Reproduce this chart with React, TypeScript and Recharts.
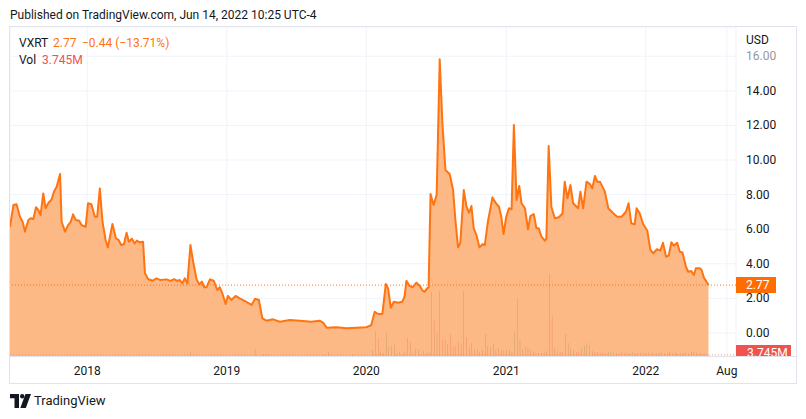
import React from "react";
import {
  ComposedChart,
  Area,
  Bar,
  Cell,
  XAxis,
  YAxis,
  CartesianGrid,
  ReferenceLine,
} from "recharts";

// weekly closes, VXRT (USD)
const priceDates = [
  "2017-06-13", "2017-06-22", "2017-06-30", "2017-07-09", "2017-07-16", "2017-07-22", "2017-07-31",
  "2017-08-06", "2017-08-13", "2017-08-20", "2017-08-26", "2017-09-01", "2017-09-08", "2017-09-14",
  "2017-09-21", "2017-09-30", "2017-10-06", "2017-10-13", "2017-10-22", "2017-10-26", "2017-11-04",
  "2017-11-12", "2017-11-19", "2017-11-25", "2017-12-02", "2017-12-11", "2017-12-17", "2017-12-28",
  "2018-01-03", "2018-01-12", "2018-01-21", "2018-01-27", "2018-02-03", "2018-02-10", "2018-02-18",
  "2018-02-24", "2018-03-08", "2018-03-17", "2018-03-24", "2018-03-31", "2018-04-07", "2018-04-14",
  "2018-04-20", "2018-04-28", "2018-05-05", "2018-05-11", "2018-05-18", "2018-05-27", "2018-06-01",
  "2018-06-09", "2018-06-21", "2018-07-01", "2018-07-12", "2018-07-27", "2018-08-07", "2018-08-16",
  "2018-08-24", "2018-08-31", "2018-09-07", "2018-09-13", "2018-09-20", "2018-09-28", "2018-10-05",
  "2018-10-14", "2018-10-21", "2018-10-28", "2018-11-03", "2018-11-09", "2018-11-18", "2018-11-28",
  "2018-12-07", "2018-12-14", "2018-12-21", "2018-12-29",
  "2019-01-04", "2019-01-13", "2019-01-24", "2019-02-04", "2019-02-20", "2019-03-07", "2019-03-16",
  "2019-03-26", "2019-04-04", "2019-04-15", "2019-05-02", "2019-05-20", "2019-06-15", "2019-07-11",
  "2019-08-10", "2019-09-01", "2019-09-10", "2019-09-19", "2019-10-15", "2019-11-10", "2019-12-06",
  "2020-01-01", "2020-01-14", "2020-01-23", "2020-02-01", "2020-02-12", "2020-02-21", "2020-02-27",
  "2020-03-05", "2020-03-13", "2020-03-24", "2020-04-04", "2020-04-10", "2020-04-15", "2020-04-23",
  "2020-05-01", "2020-05-11", "2020-05-20", "2020-05-27", "2020-06-02", "2020-06-08", "2020-06-12",
  "2020-06-17", "2020-06-25", "2020-07-03", "2020-07-11", "2020-07-18", "2020-07-26", "2020-08-06",
  "2020-08-15", "2020-08-21", "2020-08-28", "2020-09-03", "2020-09-12", "2020-09-19", "2020-09-26",
  "2020-10-02", "2020-10-08", "2020-10-15", "2020-10-23", "2020-10-31", "2020-11-06", "2020-11-14",
  "2020-11-26", "2020-12-05", "2020-12-13", "2020-12-19", "2020-12-25",
  "2021-01-01", "2021-01-08", "2021-01-15", "2021-01-21", "2021-01-28", "2021-02-04", "2021-02-10",
  "2021-02-19", "2021-02-27", "2021-03-05", "2021-03-14", "2021-03-21", "2021-03-27", "2021-04-03",
  "2021-04-12", "2021-04-16", "2021-04-22", "2021-04-29", "2021-05-08", "2021-05-19", "2021-05-28",
  "2021-06-03", "2021-06-10", "2021-06-18", "2021-06-25", "2021-07-08", "2021-07-14", "2021-07-21",
  "2021-07-30", "2021-08-08", "2021-08-14", "2021-08-21", "2021-08-27", "2021-09-03", "2021-09-16",
  "2021-09-25", "2021-10-08", "2021-10-18", "2021-10-30", "2021-11-10", "2021-11-17", "2021-11-24",
  "2021-12-03", "2021-12-08", "2021-12-16", "2021-12-25",
  "2022-01-05", "2022-01-13", "2022-01-21", "2022-01-30", "2022-02-08", "2022-02-15", "2022-02-23",
  "2022-03-02", "2022-03-09", "2022-03-15", "2022-03-24", "2022-03-31", "2022-04-07", "2022-04-16",
  "2022-04-22", "2022-04-30", "2022-05-07", "2022-05-12", "2022-05-23", "2022-05-27", "2022-06-02",
  "2022-06-14",
];

const prices = [
  6.14, 7.4, 7.44, 6.72, 6.43, 5.86, 6.53, 6.63, 6.59, 7.27, 7.11, 6.82, 8.07, 7.21,
  7.5, 7.73, 8.17, 8.46, 9.19, 6.43, 5.86, 6.24, 6.43, 6.86, 6.53, 6.49, 6.24, 6.14,
  7.5, 7.44, 6.72, 6.72, 8.36, 6.43, 5.38, 4.95, 6.3, 5.47, 5.38, 5.09, 5.13, 5.8,
  5.28, 5.45, 5.18, 5.34, 5.24, 5.28, 3.45, 3.12, 3.02, 3.16, 3.06, 3.1, 3.01, 3.12,
  3.01, 3.06, 2.87, 3.16, 2.87, 5.09, 4.12, 3.1, 2.81, 2.97, 2.64, 2.64, 3.1, 3.02,
  2.49, 2.64, 2.25, 1.68,
  2.14, 1.91, 2.14, 2.0, 1.81, 1.62, 1.98, 1.91, 0.85, 0.71, 0.79, 0.65, 0.75, 0.71,
  0.65, 0.71, 0.6, 0.31, 0.33, 0.27, 0.31,
  0.33, 0.46, 1.23, 1.1, 1.1, 2.83, 2.58, 1.46, 1.81, 1.75, 1.81, 2.1, 3.02, 2.72,
  2.64, 2.91, 2.72, 2.45, 2.39, 2.58, 2.64, 8.03, 7.4, 7.98, 15.82, 12.12, 9.42, 9.19,
  8.27, 6.53, 4.95, 5.22, 8.27, 7.3, 6.95, 7.34, 6.05, 5.66, 4.95, 5.14, 5.09, 6.43,
  7.84, 7.5, 7.3, 6.72, 5.72,
  6.72, 7.21, 7.15, 12.02, 7.69, 8.5, 7.5, 7.21, 5.99, 6.76, 6.88, 6.05, 6.05, 5.57,
  5.34, 5.47, 10.81, 7.3, 6.63, 6.69, 6.92, 8.75, 7.79, 8.55, 7.5, 7.21, 8.17, 7.21,
  8.75, 8.61, 8.36, 9.08, 8.75, 8.75, 8.17, 7.21, 6.92, 6.72, 6.72, 7.01, 7.5, 6.34,
  6.28, 7.21, 6.92, 6.3,
  5.91, 4.8, 4.61, 4.84, 4.76, 5.22, 4.41, 4.47, 5.24, 5.05, 5.22, 4.7, 4.66, 3.83,
  3.54, 3.58, 3.35, 3.74, 3.74, 3.64, 3.2, 2.77,
];

// weekly volume, millions of shares; volUp = close above open
const volDates = [
  "2018-09-28", "2019-03-16", "2019-04-07", "2019-04-14", "2019-04-21", "2019-09-09", "2019-09-24",
  "2019-11-25",
  "2020-01-17", "2020-01-25", "2020-02-02", "2020-02-08", "2020-02-15", "2020-02-22", "2020-02-29",
  "2020-03-07", "2020-03-14", "2020-03-21", "2020-03-28", "2020-04-04", "2020-04-11", "2020-04-18",
  "2020-04-25", "2020-05-02", "2020-05-09", "2020-05-16", "2020-05-23", "2020-05-30", "2020-06-06",
  "2020-06-13", "2020-06-20", "2020-06-27", "2020-07-04", "2020-07-11", "2020-07-18", "2020-07-25",
  "2020-08-01", "2020-08-08", "2020-08-15", "2020-08-22", "2020-08-29", "2020-09-05", "2020-09-12",
  "2020-09-19", "2020-09-26", "2020-10-03", "2020-10-10", "2020-10-17", "2020-10-24", "2020-10-31",
  "2020-11-07", "2020-11-14", "2020-11-21", "2020-11-28", "2020-12-05", "2020-12-12", "2020-12-19",
  "2020-12-26",
  "2021-01-02", "2021-01-09", "2021-01-16", "2021-01-23", "2021-01-30", "2021-02-06", "2021-02-13",
  "2021-02-20", "2021-02-27", "2021-03-06", "2021-03-13", "2021-03-20", "2021-03-27", "2021-04-03",
  "2021-04-10", "2021-04-17", "2021-04-24", "2021-05-01", "2021-05-08", "2021-05-15", "2021-05-22",
  "2021-05-29", "2021-06-05", "2021-06-12", "2021-06-19", "2021-06-26", "2021-07-03", "2021-07-10",
  "2021-07-17", "2021-07-24", "2021-07-31", "2021-08-07", "2021-08-14", "2021-08-21", "2021-08-28",
  "2021-09-04", "2021-09-11", "2021-09-18", "2021-09-25", "2021-10-02", "2021-10-09", "2021-10-16",
  "2021-10-23", "2021-10-30", "2021-11-06", "2021-11-13", "2021-11-20", "2021-11-27", "2021-12-04",
  "2021-12-11", "2021-12-18", "2021-12-25",
  "2022-01-01", "2022-01-08", "2022-01-15", "2022-01-22", "2022-01-29", "2022-02-05", "2022-02-12",
  "2022-02-19", "2022-02-26", "2022-03-05", "2022-03-12", "2022-03-19", "2022-03-26", "2022-04-02",
  "2022-04-09", "2022-04-16", "2022-04-23", "2022-04-30", "2022-05-07", "2022-05-14", "2022-05-21",
  "2022-05-28", "2022-06-04", "2022-06-11",
];

const volumes = [
  12, 21, 6, 6, 4, 6, 11, 5,
  18, 75, 54, 15, 9, 72, 27, 30, 33, 9, 12, 6, 12, 54, 42, 9, 21, 21, 6, 15, 9, 12,
  192, 105, 69, 195, 48, 51, 36, 66, 27, 27, 42, 33, 195, 57, 27, 39, 18, 21, 12, 18,
  66, 30, 27, 36, 18, 24, 18, 18,
  18, 18, 12, 72, 174, 48, 21, 27, 24, 18, 12, 9, 9, 9, 12, 15, 246, 120, 24, 15, 12,
  12, 66, 39, 24, 18, 12, 12, 24, 30, 39, 33, 15, 12, 12, 9, 12, 9, 12, 13, 9, 9,
  9, 12, 9, 12, 9, 11, 9, 9, 10, 9,
  9, 12, 9, 10, 9, 9, 10, 9, 9, 12, 9, 11, 9, 9, 9, 10, 9, 12, 14, 11, 9, 10, 9, 3.745,
];

const volUp = [
  1, 1, 0, 0, 0, 0, 1, 0,
  1, 1, 0, 0, 1, 1, 0, 0, 1, 0, 0, 0, 1, 1, 0, 0, 1, 1, 0, 0, 0, 1,
  1, 0, 1, 1, 0, 0, 1, 0, 0, 0, 0, 0, 1, 0, 0, 1, 0, 0, 0, 0,
  1, 1, 0, 1, 0, 0, 0, 1,
  1, 1, 0, 1, 0, 1, 0, 0, 0, 0, 0, 0, 0, 0, 0, 1, 1, 0, 0, 0, 0,
  0, 1, 0, 1, 0, 0, 0, 0, 1, 1, 0, 0, 0, 0, 0, 0, 0, 1, 1, 0, 0,
  0, 1, 0, 0, 0, 1, 0, 0, 0, 0,
  0, 0, 0, 0, 1, 0, 1, 0, 0, 1, 0, 1, 0, 0, 0, 0, 0, 1, 1, 0, 0, 1, 0, 0,
];

const priceTicks = [0, 2, 4, 6, 8, 10, 12, 14, 16];
const timeTicks = ["2018-01-01", "2019-01-01", "2020-01-01", "2021-01-01", "2022-01-01", "2022-08-01"];
const timeTickLabels = ["2018", "2019", "2020", "2021", "2022", "Aug"];

const LAST_PRICE = 2.77;
const LAST_VOL = 3.745;

const LINE = "#ff7410";
const FILL = "#fdb985";
const VOL_UP = "#a89466";
const VOL_DOWN = "#ee7a52";
const TEXT = "#131722";
const GRID = "#f0f3fa";
const BORDER = "#e0e3eb";

const toTs = (d: string) => Date.parse(d + "T00:00:00Z");

const data = [
  ...priceDates.map((d, i) => ({ t: toTs(d), price: prices[i] })),
  ...volDates.map((d, i) => ({ t: toTs(d), vol: volumes[i], up: volUp[i] === 1 })),
].sort((a, b) => a.t - b.t);

const tickTs = timeTicks.map(toTs);
const tickLabel = (v: number) => timeTickLabels[tickTs.indexOf(v)] ?? "";

const PriceTick = (props: any) => {
  const { x, y, payload } = props;
  return (
    <text
      x={x}
      y={y}
      dy={4}
      fontSize={12}
      textAnchor="start"
      fill={payload.value === 16 ? "#9598a1" : TEXT}
    >
      {Number(payload.value).toFixed(2)}
    </text>
  );
};

const abs = (style: React.CSSProperties): React.CSSProperties => ({
  position: "absolute",
  whiteSpace: "nowrap",
  ...style,
});

export default function App() {
  return (
    <div
      style={{
        position: "absolute",
        left: 0,
        top: 0,
        width: 806,
        height: 419,
        background: "#fff",
        fontFamily: "Roboto, 'Noto Sans', sans-serif",
        color: TEXT,
        overflow: "hidden",
      }}
    >
      <div style={abs({ left: 10, top: 7, fontSize: 12, lineHeight: "16px" })}>
        Published on TradingView.com, Jun 14, 2022 10:25 UTC-4
      </div>

      <div style={abs({ left: 9, top: 26 })}>
        <ComposedChart
          width={787}
          height={358}
          data={data}
          margin={{ top: 1, right: 1, bottom: 1, left: 1 }}
        >
          <CartesianGrid yAxisId="p" stroke={GRID} strokeWidth={1} />
          <XAxis
            dataKey="t"
            type="number"
            scale="time"
            domain={[toTs("2017-06-13"), toTs("2022-08-25")]}
            ticks={tickTs}
            tickFormatter={tickLabel}
            height={27}
            axisLine={false}
            tickLine={false}
            tickSize={0}
            tickMargin={10}
            interval={0}
            tick={{ fill: TEXT, fontSize: 12 }}
          />
          <YAxis
            yAxisId="p"
            orientation="right"
            width={59}
            type="number"
            domain={[-1.33, 17.69]}
            ticks={priceTicks}
            allowDataOverflow
            axisLine={false}
            tickLine={false}
            tickSize={0}
            tickMargin={10}
            interval={0}
            tick={<PriceTick />}
          />
          <YAxis yAxisId="v" hide type="number" domain={[0, 987]} allowDataOverflow />
          <Area
            yAxisId="p"
            type="linear"
            dataKey="price"
            stroke={LINE}
            strokeWidth={2}
            strokeLinejoin="round"
            fill={FILL}
            fillOpacity={1}
            baseValue="dataMin"
            connectNulls
            dot={false}
            activeDot={false}
            isAnimationActive={false}
          />
          <Bar yAxisId="v" dataKey="vol" barSize={1} isAnimationActive={false}>
            {data.map((r: any, i) => (
              <Cell key={i} fill={r.up ? VOL_UP : VOL_DOWN} />
            ))}
          </Bar>
          <ReferenceLine
            yAxisId="p"
            y={LAST_PRICE}
            stroke={LINE}
            strokeWidth={1}
            strokeDasharray="1 2"
          />
          <ReferenceLine
            yAxisId="v"
            y={LAST_VOL}
            stroke="#f08a5a"
            strokeOpacity={0.7}
            strokeWidth={1}
            strokeDasharray="1 2"
          />
        </ComposedChart>
      </div>

      {/* frame */}
      <div
        style={abs({
          left: 9,
          top: 26,
          width: 788,
          height: 358,
          border: `1px solid ${BORDER}`,
          boxSizing: "border-box",
          pointerEvents: "none",
        })}
      />
      <div style={abs({ left: 9, top: 356, width: 788, height: 1, background: BORDER })} />

      {/* legend */}
      <div style={abs({ left: 19, top: 35, fontSize: 12, lineHeight: "16px" })}>VXRT</div>
      <div style={abs({ left: 53, top: 35, fontSize: 12, lineHeight: "16px", color: LINE })}>
        2.77
      </div>
      <div style={abs({ left: 82, top: 35, fontSize: 12, lineHeight: "16px", color: LINE })}>
        −0.44 (−13.71%)
      </div>
      <div style={abs({ left: 19, top: 52, fontSize: 12, lineHeight: "16px" })}>Vol</div>
      <div style={abs({ left: 42, top: 52, fontSize: 12, lineHeight: "16px", color: "#ef5350" })}>
        3.745M
      </div>

      {/* price scale extras */}
      <div style={abs({ left: 746, top: 32, fontSize: 12, lineHeight: "16px" })}>USD</div>
      <div
        style={abs({
          left: 736,
          top: 277,
          width: 40,
          height: 16,
          background: "#ff6d00",
          color: "#fff",
          fontSize: 12,
          lineHeight: "16px",
          paddingLeft: 10,
          boxSizing: "border-box",
        })}
      >
        2.77
      </div>
      <div
        style={abs({
          left: 736,
          top: 345,
          width: 55,
          height: 11,
          overflow: "hidden",
          background: "#ef5350",
        })}
      >
        <div style={{ color: "#fff", fontSize: 12, lineHeight: "16px", paddingLeft: 11 }}>
          3.745M
        </div>
      </div>

      {/* footer */}
      <svg style={abs({ left: 10, top: 394 })} width={22} height={14} viewBox="0 0 22 14">
        <path d="M0 0 H9 V14 H4.5 V4.3 H0 Z" fill={TEXT} />
        <circle cx={12.2} cy={2.2} r={2.2} fill={TEXT} />
        <path d="M15.5 0 H21 L15.8 14 H10.3 Z" fill={TEXT} />
      </svg>
      <div style={abs({ left: 34, top: 392, fontSize: 13, lineHeight: "18px" })}>TradingView</div>
    </div>
  );
}
